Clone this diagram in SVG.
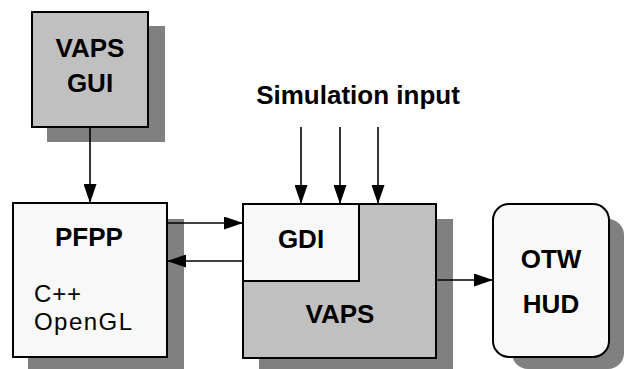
<svg xmlns="http://www.w3.org/2000/svg" width="624" height="369" viewBox="0 0 624 369">
<defs>
<style>
.sh{fill:#808080}
.bx{stroke:#000;stroke-width:2}
.lt{fill:#f8f8f8}
.gy{fill:#c0c0c0}
.b{font-family:"Liberation Sans",Arial,sans-serif;font-weight:bold;font-size:26px;text-anchor:middle;fill:#000}
.n{font-family:"Liberation Sans",Arial,sans-serif;font-size:24px;fill:#000}
.c{stroke:#000;stroke-width:1.6;fill:none;marker-end:url(#ah)}
</style>
<marker id="ah" viewBox="0 0 19 13" refX="19" refY="6.5" markerWidth="19" markerHeight="13" markerUnits="userSpaceOnUse" orient="auto">
<path d="M0,0L19,6.5L0,13z" fill="#000"/>
</marker>
</defs>
<rect width="624" height="369" fill="#fff"/>
<g id="vapsgui">
<rect class="sh" x="47" y="26" width="118" height="116"/>
<rect class="bx gy" x="32" y="12" width="116" height="115"/>
<text class="b" x="90" y="57">VAPS</text>
<text class="b" x="90" y="92">GUI</text>
</g>
<g id="pfpp">
<rect class="sh" x="28" y="219" width="156" height="150"/>
<rect class="bx lt" x="13" y="203" width="154" height="154"/>
<text class="b" x="89" y="246">PFPP</text>
<text class="n" x="34" y="302" textLength="47">C++</text>
<text class="n" x="34" y="330" textLength="98">OpenGL</text>
</g>
<g id="vaps">
<rect class="sh" x="259" y="219" width="194" height="150"/>
<rect class="bx gy" x="243" y="204" width="193" height="154"/>
<text class="b" x="340" y="323">VAPS</text>
</g>
<g id="gdi">
<rect class="bx lt" x="243" y="204" width="116" height="77"/>
<text class="b" x="301" y="248">GDI</text>
</g>
<g id="otw">
<rect class="sh" x="512" y="219" width="112" height="150" rx="16"/>
<rect class="bx lt" x="493" y="204" width="116" height="153" rx="16"/>
<text class="b" x="551" y="268">OTW</text>
<text class="b" x="551" y="313">HUD</text>
</g>
<g id="siminput">
<text class="b" x="358" y="104">Simulation input</text>
</g>
<g id="connectors">
<path class="c" d="M90,127V203"/>
<path class="c" d="M167,223H243"/>
<path class="c" d="M243,261H167"/>
<path class="c" d="M301,127V204"/>
<path class="c" d="M340,127V204"/>
<path class="c" d="M378,127V204"/>
<path class="c" d="M436,280H493"/>
</g>
</svg>
